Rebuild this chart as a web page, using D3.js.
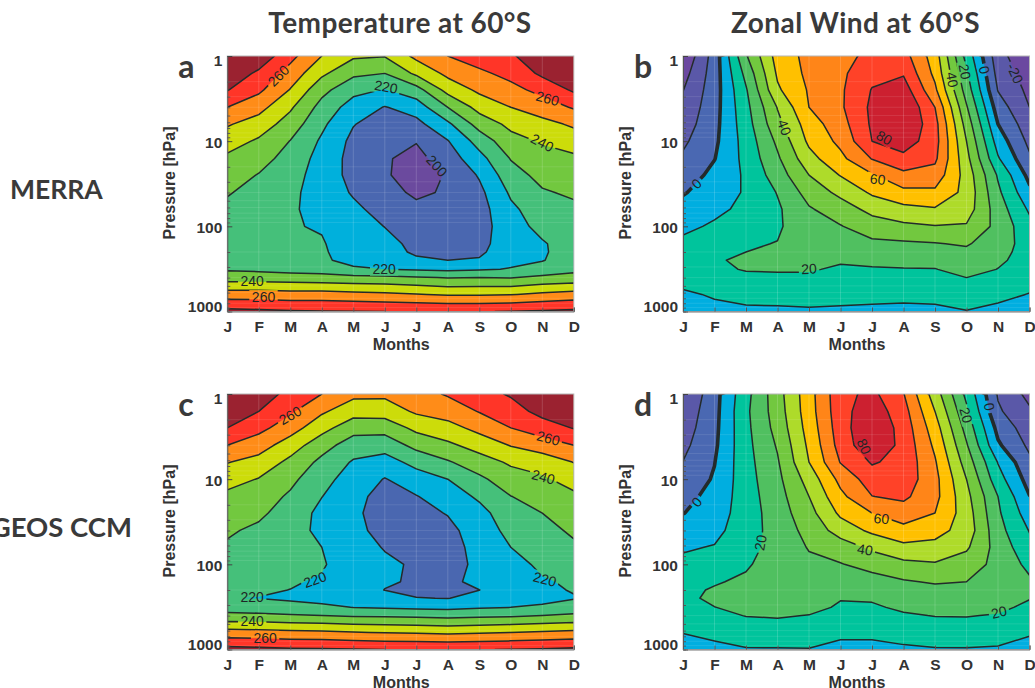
<!DOCTYPE html>
<html>
<head>
<meta charset="utf-8">
<script src="https://cdn.jsdelivr.net/npm/d3@7"></script>
<style>
  body { margin: 0; background: #fff; }
  svg { display: block; }
  text { fill: #333; }
  .tick-label { font: bold 15.5px "Liberation Sans", sans-serif; }
  .axis-title { font: bold 16px "Liberation Sans", sans-serif; }
  .heading { font: bold 28px Lato, sans-serif; fill: #3a3a3a; letter-spacing: 0.4px; }
  .row-name { font: bold 26.5px Lato, sans-serif; fill: #3a3a3a; }
  .row-wide { font: bold 27.5px Lato, sans-serif; fill: #3a3a3a; }
  .letter { font: bold 32px Lato, sans-serif; fill: #3a3a3a; }
  .clabel { font: 14px "Liberation Sans", sans-serif; fill: #1e2626; }
</style>
</head>
<body>
<div id="chart"></div>
<script>
(function() {
  'use strict';

  var months = ['J', 'F', 'M', 'A', 'M', 'J', 'J', 'A', 'S', 'O', 'N', 'D'];
  var pressures = [1, 1.6, 2.5, 4, 6.3, 10, 16, 25, 40, 63, 100, 160, 200, 250, 320, 400, 630, 1000];
  var pressureTicks = [1, 10, 100, 1000];

  // every row is one month, top of the atmosphere first
  var tempMerra = [
    [285, 277, 270.5, 260, 251, 244.5, 238, 234.5, 230.7, 228, 226, 224.5, 225, 226, 229, 235, 255, 273],
    [277, 268, 262, 253.5, 245.5, 238.5, 234, 229.5, 227, 225, 223.5, 222.5, 223, 224, 228, 235, 255, 272],
    [263, 256, 249.5, 241.5, 235.5, 229.7, 226, 224, 222, 221, 220.5, 220.5, 221, 222, 226.5, 234.5, 254, 271],
    [250, 242, 233, 226.5, 222, 218.5, 216.5, 215.5, 216, 217.5, 219.4, 220.6, 220.8, 221, 225.5, 234, 254, 270.5],
    [241.5, 232, 223, 215.5, 210.5, 207.5, 206.5, 207, 209, 212, 214.5, 216, 217, 218, 221, 233, 253, 270.3],
    [240.5, 230, 219.5, 209.5, 205, 202.5, 201, 201, 203, 206.5, 209.8, 213, 215, 217, 220, 232.5, 252, 270],
    [252.5, 242, 226, 214.5, 207, 200.5, 197, 196, 198.5, 202, 205.5, 207.5, 208, 212, 219, 231, 250.5, 269.7],
    [260, 252.5, 243.5, 230, 218, 209.5, 205, 200.8, 201, 203.5, 205.5, 207, 208, 210, 218, 229.5, 249, 269.5],
    [265, 258, 252, 243.5, 234, 224, 216.5, 211, 207.5, 206, 205.5, 206.5, 208, 211, 219, 230, 249, 269.8],
    [268, 263, 257, 250, 242.5, 236.5, 230.5, 226, 221.5, 218, 216.5, 216.5, 217, 218, 220.5, 229.5, 249.5, 270.2],
    [280, 272, 263, 255, 247, 241, 236, 233, 229, 225.5, 222.5, 219.2, 219, 219.5, 224, 232, 252, 271],
    [287, 280, 271.5, 261, 251.5, 245, 238, 235, 231.5, 228, 226, 224, 224, 225, 227.5, 233.5, 254, 272]
  ];
  var tempGeos = [
    [285, 277, 270, 260, 250.5, 244, 237.5, 234, 231, 229, 226, 223, 222, 220.2, 226, 232.5, 254, 273.5],
    [277, 270, 263, 254.5, 246.5, 239.5, 235, 231.5, 228.5, 226, 224, 222, 221, 219.8, 225, 232, 253.5, 272.5],
    [266, 261.5, 254.5, 245, 237.5, 232.5, 228.5, 226.5, 225, 223.5, 222, 220.8, 219.9, 218.5, 223.5, 231, 252.5, 271.5],
    [260, 251.5, 243.5, 234, 227.5, 223, 220.2, 217, 217, 220, 221, 219, 218, 217, 222, 230, 252, 271],
    [252.5, 244, 234, 225, 219, 216, 213, 212, 212.5, 213.5, 214.5, 215, 215.5, 216, 219.8, 229, 250.5, 270.5],
    [252, 244.5, 234, 224, 216, 209.5, 206.5, 205.5, 207, 209.5, 211.5, 211, 209.8, 215.5, 219, 228.5, 249.5, 270],
    [256, 251.5, 242.5, 233, 223, 215.5, 209.5, 207, 206, 207.5, 209, 209, 208, 210.3, 218, 228, 249, 269.5],
    [261, 254.5, 246.5, 238, 229, 220, 215, 210.5, 207.5, 206.5, 206.5, 206.5, 207, 209.8, 217.5, 227, 248, 269.5],
    [266.5, 260.5, 253, 244, 235.5, 228, 221.5, 217, 214.5, 213, 212, 214, 209.9, 212.5, 219, 228, 249, 269.8],
    [271, 266, 260, 250.5, 241.5, 235.5, 229.8, 225.5, 223, 220, 216.5, 215.5, 216, 216.5, 220, 228.5, 250, 270.2],
    [282, 273, 265.5, 255, 244.5, 238.5, 233.5, 230, 227, 224.5, 222, 219, 218.5, 218, 221, 230, 251, 271],
    [287, 280, 270.5, 260, 250.3, 244, 238, 235, 231.5, 228.5, 225, 221.5, 220.5, 219.5, 224.5, 231.5, 252.5, 272]
  ];
  var windMerra = [
    [-29, -24, -20.3, -17.5, -15, -11.8, -8.5, -5, -0.8, 3.5, 8, 12, 13.4, 14.5, 15, 13.5, 8.5, 5],
    [-5.5, -5, -4.5, -3.8, -3, -2, -0.3, 2.5, 5, 8, 11.2, 16, 18, 19.4, 18.5, 17, 11, 7.5],
    [29, 23, 19, 17, 15.5, 14, 13, 11.5, 11, 12, 15, 19, 20, 21, 20.5, 18.3, 12.5, 8.5],
    [54, 51.5, 48.5, 40.5, 37, 32, 28.5, 25, 20.5, 18.5, 18.5, 20.3, 21.5, 22.5, 20.8, 18.5, 13, 8.5],
    [63, 62.5, 61, 60, 55, 52, 46.5, 40, 34, 29, 27, 25, 24, 23, 20.8, 18.5, 13, 9],
    [67, 68, 68.5, 68.5, 66, 62.5, 57.5, 50.5, 42.5, 35, 29.5, 25.5, 23, 21, 18.7, 16.5, 12, 9],
    [72.5, 77, 80.5, 82, 81.5, 80, 70.5, 59, 51.5, 43, 35, 28, 24.5, 21.8, 19.3, 17, 12, 8.5],
    [74, 79, 85, 90, 90, 85.5, 77, 67.5, 57.5, 47, 38, 28.5, 24.5, 21.8, 19.7, 17, 12, 8],
    [55, 57.5, 62, 70, 73.5, 74, 72, 66, 58, 49, 39.5, 29.5, 25.5, 22.5, 19.7, 17, 12.5, 8.2],
    [16.5, 21.5, 25.5, 31, 36, 40, 43, 46, 47, 45, 39, 31, 28, 26, 23, 20, 14, 9.7],
    [-16, -13.5, -10.5, -5, 0, 5.5, 11, 18.8, 22, 25, 27, 24.5, 23, 21.5, 19.8, 17, 12, 8],
    [-29, -25, -22.5, -20, -16, -12.5, -8.5, -3, 2.5, 8.5, 13, 16, 16.3, 16.5, 15.5, 13.5, 9.7, 5.5]
  ];
  var windGeos = [
    [-20.5, -17, -15, -12.5, -9.8, -6.5, -3, -0.3, 5, 9, 12, 15, 17.5, 18.5, 16.5, 14.5, 10.3, 6],
    [-3.6, -3.2, -2.6, -1.8, -0.3, 1, 3, 5, 7.5, 10.5, 14.5, 19, 21, 21.3, 19.9, 17.5, 12, 8],
    [16.8, 18, 17.5, 17, 16.5, 16, 15.5, 15, 15, 15.5, 18.5, 22, 22.5, 22.5, 21.5, 20.3, 14, 9.5],
    [36, 35, 33.5, 31, 29, 27.5, 26, 25, 24.5, 25, 26, 25.5, 25, 24.5, 23, 21, 14.5, 9.5],
    [56, 55.5, 54, 52, 50, 44, 40, 36.5, 33, 30.5, 28.5, 27, 26, 25.5, 23, 19.7, 14, 9.7],
    [77, 76.5, 75.5, 74, 70.5, 63, 57.5, 52, 44.5, 35, 29.5, 25.5, 23, 20.5, 18.7, 16.5, 11.5, 8],
    [82.5, 86, 89, 88, 81, 75, 69.8, 60, 52, 42, 33.5, 26, 23.5, 21, 18.8, 16.5, 11.5, 8],
    [70.5, 74, 76, 77, 77, 76, 72, 65, 57, 47.5, 37.5, 29, 26.5, 24, 21.5, 19, 12.5, 9],
    [45, 50, 54.5, 58, 61, 63, 63, 60, 53.5, 47, 39, 31, 27.5, 24.5, 22, 20.3, 14, 9.5],
    [17.5, 22, 26.5, 31, 35.5, 40, 43, 45, 46, 41.5, 35, 30, 27.5, 25.5, 23, 20.5, 14.5, 9.5],
    [-11, -8.5, -3, 1.5, 9.5, 14, 20, 21.5, 23.5, 26, 27, 27, 25.5, 24.5, 22.5, 19.3, 14, 9],
    [-23, -18.5, -15.5, -12, -8, -4, 0.3, 5, 9.5, 13, 17.5, 21.5, 21, 20.5, 17.5, 15.5, 11, 6.5]
  ];

  var tempLevels = [200, 210, 220, 230, 240, 250, 260, 270];
  var windLevels = [-20, -10, 0, 10, 20, 30, 40, 50, 60, 70, 80];
  var tempColors = ['#6b4a9e', '#4a67b0', '#00b0dc', '#45c07a', '#72c83f', '#ccdc0a', '#ff8c18', '#ff3528', '#9b2230'];
  var windColors = ['#6b48a0', '#5a58a8', '#4a68b2', '#00aee0', '#00c49c', '#50c060', '#72c83f', '#aedb2a', '#ffc000', '#ff8518', '#ff4228', '#cc2030'];

  // text, month position, pressure, angle
  var labelsA = [['260', 1.62, 1.7, -45], ['260', 10.17, 3.15, 15], ['240', 10, 10.4, 27], ['200', 6.65, 19.5, 48],
    ['220', 5.04, 2.3, 10], ['220', 4.98, 315, 0], ['240', 0.79, 440, 0], ['260', 1.15, 678, 0]];
  var labelsB = [['40', 3.22, 6.9, 70], ['80', 6.39, 9.1, 30], ['60', 6.18, 28, 5], ['20', 4, 315, -3], ['0', 0.43, 31.5, -45],
    ['0', 9.57, 1.46, 75], ['20', 8.95, 1.53, 80], ['40', 8.55, 1.9, 80], ['-20', 10.54, 1.6, 65]];
  var labelsC = [['260', 1.99, 1.78, -30], ['260', 10.19, 3.3, 15], ['240', 10.03, 9.4, 15], ['220', 2.78, 151, -20],
    ['220', 10.08, 149, 15], ['220', 0.79, 240, 0], ['240', 0.79, 464, 0], ['260', 1.2, 729, 0]];
  var labelsD = [['0', 0.43, 18.5, -50], ['0', 9.73, 1.41, 80], ['20', 8.99, 1.77, 75], ['20', 2.46, 55.6, -80], ['80', 5.75, 4.13, 65],
    ['60', 6.3, 29, 5], ['40', 5.78, 67, 10], ['20', 10.03, 364, -15]];

  var svg = d3.select('#chart').append('svg').attr('width', 1035).attr('height', 688);

  var minorTicks = [];
  [1, 10, 100].forEach(function(decade) {
    d3.range(2, 10).forEach(function(k) { minorTicks.push(k * decade); });
  });

  function drawPanel(opts) {
    var x = d3.scalePoint().domain(d3.range(months.length)).range([opts.left, opts.left + 346.5]);
    var y = d3.scaleLog().domain([1, 1000]).range([opts.top, opts.top + 255.5]);
    // grid index to pixel, the rows are not evenly spaced
    var gridX = d3.scaleLinear().domain([0, months.length - 1]).range(x.range());
    var gridY = d3.scaleLinear().domain(d3.range(pressures.length)).range(pressures.map(y));

    var g = svg.append('g');
    var id = opts.letter;

    g.append('clipPath').attr('id', 'clip-' + id).append('rect')
      .attr('x', opts.left).attr('y', opts.top).attr('width', 346.5).attr('height', 255.5);

    var flat = [];
    pressures.forEach(function(p, j) {
      months.forEach(function(m, i) { flat.push(opts.values[i][j]); });
    });
    var contours = d3.contours().size([months.length, pressures.length]).thresholds(opts.levels)(flat);

    var path = function(c) {
      return c.coordinates.map(function(poly) {
        return poly.map(function(ring) {
          return 'M' + ring.map(function(pt) {
            return gridX(pt[0] - 0.5).toFixed(2) + ',' + gridY(pt[1] - 0.5).toFixed(2);
          }).join('L') + 'Z';
        }).join('');
      }).join('');
    };

    var plot = g.append('g').attr('clip-path', 'url(#clip-' + id + ')');
    plot.append('rect').attr('x', opts.left).attr('y', opts.top).attr('width', 346.5).attr('height', 255.5)
      .attr('fill', opts.colors[0]);
    plot.selectAll('path.band').data(contours).enter().append('path')
      .attr('class', 'band')
      .attr('d', path)
      .attr('fill', function(d, i) { return opts.colors[i + 1]; });

    // faint grid lines on top of the colours
    plot.selectAll('line.gv').data(d3.range(months.length)).enter().append('line')
      .attr('class', 'gv')
      .attr('x1', function(d) { return x(d); }).attr('x2', function(d) { return x(d); })
      .attr('y1', opts.top).attr('y2', opts.top + 255.5)
      .attr('stroke', '#fff').attr('stroke-opacity', 0.16);
    plot.selectAll('line.gh').data(minorTicks).enter().append('line')
      .attr('class', 'gh')
      .attr('x1', opts.left).attr('x2', opts.left + 346.5)
      .attr('y1', function(d) { return y(d); }).attr('y2', function(d) { return y(d); })
      .attr('stroke', '#fff').attr('stroke-opacity', 0.1);

    // contour lines have gaps under their labels
    var mask = g.append('mask').attr('id', 'gap-' + id).attr('maskUnits', 'userSpaceOnUse')
      .attr('x', opts.left - 5).attr('y', opts.top - 5).attr('width', 360).attr('height', 270);
    mask.append('rect').attr('x', opts.left - 5).attr('y', opts.top - 5).attr('width', 360).attr('height', 270)
      .attr('fill', '#fff');

    var lines = plot.append('g').attr('mask', 'url(#gap-' + id + ')');
    lines.selectAll('path').data(contours).enter().append('path')
      .attr('d', path)
      .attr('fill', 'none')
      .attr('stroke', '#232b2b')
      .attr('stroke-linejoin', 'round')
      .attr('stroke-width', function(d) { return d.value === 0 ? 3.6 : 1.5; });

    opts.labels.forEach(function(l) {
      var lx = gridX(l[1]), ly = y(l[2]);
      var t = g.append('text').attr('class', 'clabel')
        .attr('text-anchor', 'middle').attr('dy', '0.36em')
        .attr('transform', 'translate(' + lx + ',' + ly + ') rotate(' + l[3] + ')')
        .text(l[0]);
      var w = t.node().getComputedTextLength() + 5;
      mask.append('rect').attr('x', -w / 2).attr('y', -7).attr('width', w).attr('height', 14)
        .attr('fill', '#000')
        .attr('transform', 'translate(' + lx + ',' + ly + ') rotate(' + l[3] + ')');
    });

    // frame
    g.append('rect').attr('x', opts.left).attr('y', opts.top).attr('width', 346.5).attr('height', 255.5)
      .attr('fill', 'none').attr('stroke', '#b5b5b5');

    var minorAxis = d3.axisLeft(y).tickValues(minorTicks).tickSize(-3).tickFormat('');
    g.append('g').attr('transform', 'translate(' + opts.left + ',0)').call(minorAxis)
      .call(function(s) { s.select('.domain').attr('stroke', '#555'); s.selectAll('line').attr('stroke', '#555'); });

    var yAxis = d3.axisLeft(y).tickValues(pressureTicks).tickSize(-5).tickPadding(5).tickFormat(d3.format('d'));
    g.append('g').attr('transform', 'translate(' + opts.left + ',0)').call(yAxis)
      .call(function(s) {
        s.select('.domain').remove();
        s.selectAll('line').attr('stroke', '#444');
        s.selectAll('text').attr('class', 'tick-label').attr('font-family', null).attr('font-size', null)
          .attr('dy', function(d) { return d === 1 ? '0.62em' : d === 1000 ? '0' : '0.4em'; });
      });

    var xAxis = d3.axisBottom(x).tickSize(-4).tickPadding(9).tickFormat(function(i) { return months[i]; });
    g.append('g').attr('transform', 'translate(0,' + (opts.top + 255.5) + ')').call(xAxis)
      .call(function(s) {
        s.select('.domain').attr('stroke', '#777');
        s.selectAll('line').attr('stroke', '#555');
        s.selectAll('text').attr('class', 'tick-label').attr('font-family', null).attr('font-size', null);
      });

    g.append('text').attr('class', 'axis-title').attr('text-anchor', 'middle')
      .attr('x', opts.left + 174).attr('y', opts.top + 293.5).text('Months');
    g.append('text').attr('class', 'axis-title').attr('text-anchor', 'middle')
      .attr('transform', 'translate(' + (opts.left - 52) + ',' + (opts.top + 127) + ') rotate(-90)')
      .text('Pressure [hPa]');
    g.append('text').attr('class', 'letter').attr('x', opts.left - 49).attr('y', opts.top + 22).text(opts.letter);
  }

  drawPanel({ letter: 'a', left: 227.3, top: 56, values: tempMerra, levels: tempLevels, colors: tempColors, labels: labelsA });
  drawPanel({ letter: 'b', left: 683, top: 56, values: windMerra, levels: windLevels, colors: windColors, labels: labelsB });
  drawPanel({ letter: 'c', left: 227.3, top: 394, values: tempGeos, levels: tempLevels, colors: tempColors, labels: labelsC });
  drawPanel({ letter: 'd', left: 683, top: 394, values: windGeos, levels: windLevels, colors: windColors, labels: labelsD });

  svg.append('text').attr('class', 'heading').attr('text-anchor', 'middle').attr('x', 400).attr('y', 33).text('Temperature at 60°S');
  svg.append('text').attr('class', 'heading').attr('text-anchor', 'middle').attr('x', 855.5).attr('y', 33).text('Zonal Wind at 60°S');
  svg.append('text').attr('class', 'row-name').attr('x', 10).attr('y', 199).text('MERRA');
  svg.append('text').attr('class', 'row-wide').attr('text-anchor', 'end').attr('x', 132).attr('y', 537).text('GEOS CCM');
}).call(this);
</script>
</body>
</html>
